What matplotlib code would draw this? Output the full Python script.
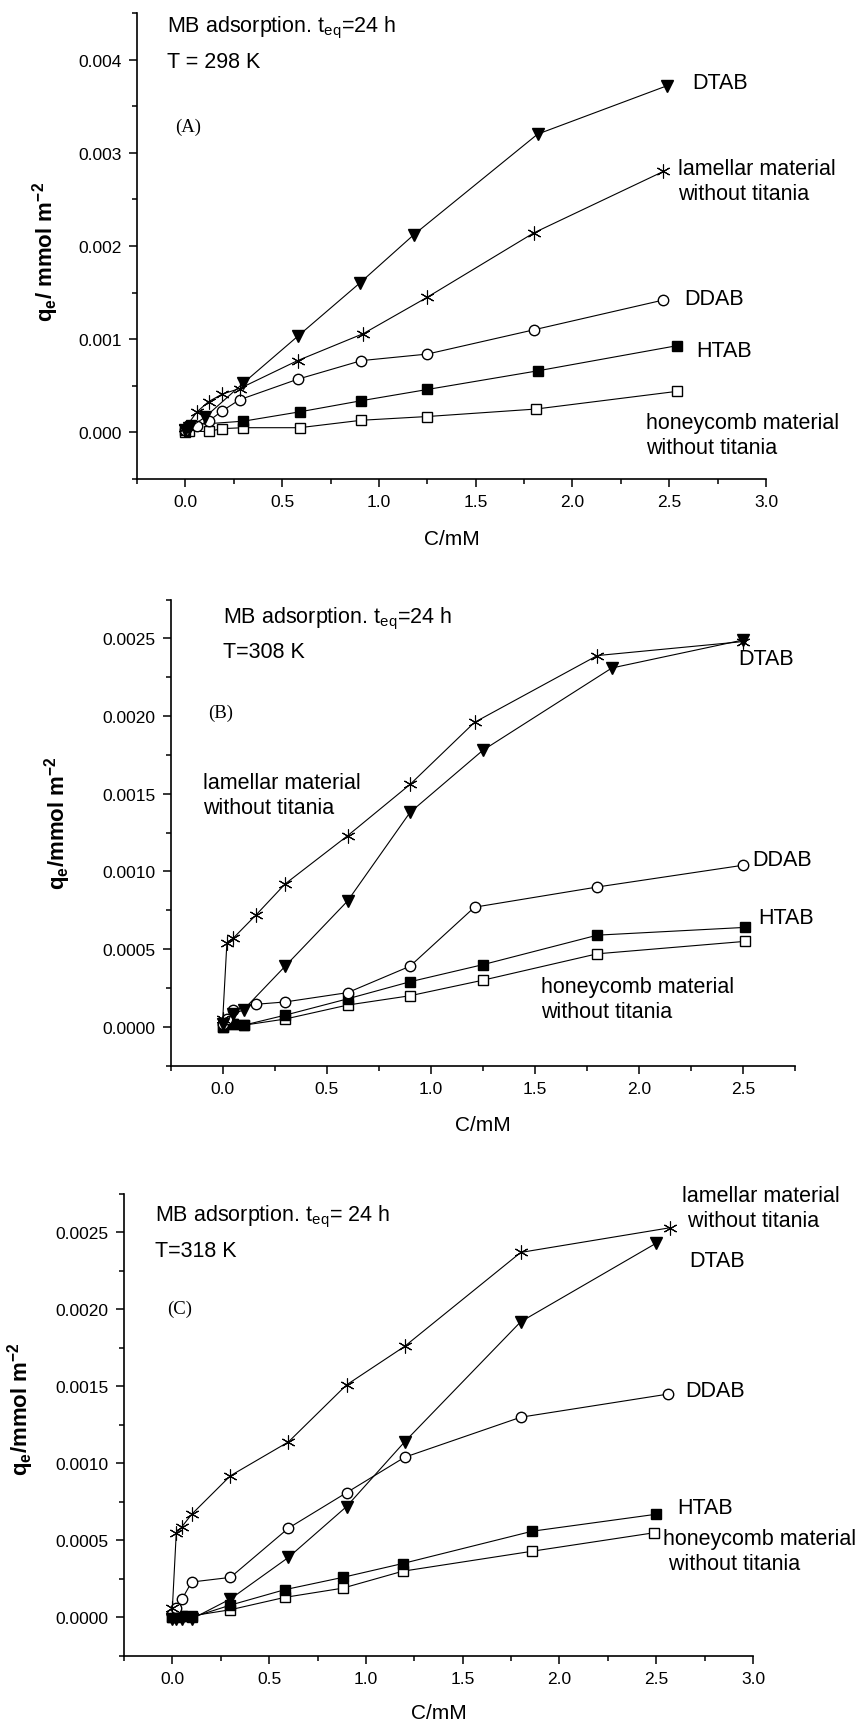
import matplotlib
matplotlib.use("Agg")
import matplotlib.pyplot as plt
from matplotlib.ticker import MultipleLocator, FormatStrFormatter

plt.rcParams['font.family'] = ['Liberation Sans', 'DejaVu Sans']
plt.rcParams['mathtext.fontset'] = 'custom'
plt.rcParams['mathtext.rm'] = 'Liberation Sans'
plt.rcParams['mathtext.it'] = 'Liberation Sans:italic'
plt.rcParams['mathtext.bf'] = 'Liberation Sans:bold'

# ---- panel A, T = 298 K ----
a_dtab_x = [0.0, 0.02, 0.1, 0.3, 0.58, 0.9, 1.18, 1.82, 2.49]
a_dtab_y = [0.00003, 0.00005, 0.00016, 0.00053, 0.00103, 0.0016, 0.00212, 0.0032, 0.00372]
a_lam_x = [0.0, 0.06, 0.12, 0.19, 0.28, 0.58, 0.92, 1.25, 1.80, 2.47]
a_lam_y = [0.00005, 0.00022, 0.00033, 0.00041, 0.00047, 0.00077, 0.00106, 0.00145, 0.00214, 0.0028]
a_ddab_x = [0.0, 0.06, 0.12, 0.19, 0.28, 0.58, 0.91, 1.25, 1.80, 2.47]
a_ddab_y = [0.00002, 0.00007, 0.00012, 0.00023, 0.00035, 0.00057, 0.00077, 0.00084, 0.0011, 0.00142]
a_htab_x = [0.0, 0.03, 0.3, 0.59, 0.91, 1.25, 1.82, 2.54]
a_htab_y = [0.00002, 0.00008, 0.00012, 0.00022, 0.00034, 0.00046, 0.00066, 0.00093]
a_hon_x = [0.0, 0.02, 0.12, 0.19, 0.3, 0.59, 0.91, 1.25, 1.81, 2.54]
a_hon_y = [0.0, 0.00001, 0.00001, 0.00004, 0.00005, 0.00005, 0.00013, 0.00017, 0.00025, 0.00044]

# ---- panel B, T = 308 K ----
b_dtab_x = [0.0, 0.05, 0.1, 0.3, 0.6, 0.9, 1.25, 1.87, 2.5]
b_dtab_y = [0.00002, 0.00008, 0.00011, 0.00039, 0.00081, 0.00138, 0.00178, 0.00231, 0.00249]
b_lam_x = [0.0, 0.02, 0.05, 0.16, 0.3, 0.6, 0.9, 1.21, 1.8, 2.5]
b_lam_y = [0.00005, 0.00054, 0.00057, 0.00072, 0.00092, 0.00123, 0.00156, 0.00196, 0.00239, 0.00248]
b_ddab_x = [0.0, 0.02, 0.05, 0.16, 0.3, 0.6, 0.9, 1.21, 1.8, 2.5]
b_ddab_y = [0.00002, 0.00005, 0.00011, 0.000145, 0.00016, 0.00022, 0.00039, 0.00077, 0.0009, 0.00104]
b_htab_x = [0.0, 0.05, 0.1, 0.3, 0.6, 0.9, 1.25, 1.8, 2.51]
b_htab_y = [0.0, 0.00002, 0.00001, 0.000075, 0.00018, 0.00029, 0.0004, 0.00059, 0.00064]
b_hon_x = [0.0, 0.05, 0.1, 0.3, 0.6, 0.9, 1.25, 1.8, 2.51]
b_hon_y = [0.0, 0.00002, 0.00001, 0.00005, 0.00014, 0.0002, 0.0003, 0.00047, 0.00055]

# ---- panel C, T = 318 K ----
c_dtab_x = [0.0, 0.02, 0.05, 0.1, 0.3, 0.6, 0.9, 1.2, 1.8, 2.5]
c_dtab_y = [-0.00001, -0.00001, -0.00001, -0.00001, 0.00012, 0.00039, 0.00072, 0.00114, 0.00192, 0.00243]
c_lam_x = [0.0, 0.02, 0.05, 0.1, 0.3, 0.6, 0.9, 1.2, 1.8, 2.57]
c_lam_y = [0.00006, 0.000545, 0.00059, 0.00067, 0.00092, 0.00114, 0.00151, 0.00176, 0.00237, 0.00253]
c_ddab_x = [0.0, 0.02, 0.05, 0.1, 0.3, 0.6, 0.9, 1.2, 1.8, 2.56]
c_ddab_y = [0.00002, 0.00006, 0.00012, 0.00023, 0.00026, 0.00058, 0.00081, 0.00104, 0.0013, 0.00145]
c_htab_x = [0.0, 0.02, 0.05, 0.1, 0.3, 0.58, 0.88, 1.19, 1.86, 2.5]
c_htab_y = [0.0, 0.0, 0.00001, 0.0, 0.00008, 0.00018, 0.00026, 0.00035, 0.00056, 0.00067]
c_hon_x = [0.0, 0.02, 0.05, 0.1, 0.3, 0.58, 0.88, 1.19, 1.86, 2.49]
c_hon_y = [0.0, 0.00001, 0.00001, 0.00001, 0.00005, 0.00013, 0.00019, 0.0003, 0.00043, 0.00055]

lam_txt = 'lamellar material\nwithout titania'
hon_txt = 'honeycomb material\nwithout titania'

styles = {
    'dtab': dict(marker='v', mfc='black', ms=8),
    'lam': dict(marker=(6, 2, 0), mfc='black', ms=10, mew=0.8),
    'ddab': dict(marker='o', mfc='white', ms=7.5),
    'htab': dict(marker='s', mfc='black', ms=6.5),
    'hon': dict(marker='s', mfc='white', ms=6.5),
}

fig = plt.figure(figsize=(8.67, 17.24), dpi=100)


def setup(ax, xlim, xmax, ylim, ymaj, yfmt):
    ax.set_xlim(*xlim)
    ax.set_ylim(*ylim)
    for s in ['top', 'right']:
        ax.spines[s].set_visible(False)
    for s in ['left', 'bottom']:
        ax.spines[s].set_linewidth(1.2)
    ax.xaxis.set_major_locator(MultipleLocator(0.5))
    ax.xaxis.set_minor_locator(MultipleLocator(0.25))
    ax.yaxis.set_major_locator(MultipleLocator(ymaj))
    ax.yaxis.set_minor_locator(MultipleLocator(ymaj / 2))
    ax.xaxis.set_major_formatter(FormatStrFormatter('%.1f'))
    ax.yaxis.set_major_formatter(FormatStrFormatter(yfmt))
    ax.set_xticks([t * 0.5 for t in range(int(xmax / 0.5) + 1)])
    ax.tick_params(which='major', direction='out', length=6, width=1.1,
                   labelsize=12.5, pad=5)
    ax.tick_params(which='minor', direction='out', length=3.5, width=1.1)
    ax.set_xlabel('C/mM', fontsize=15)


def draw(ax, series):
    for key, x, y in series:
        ax.plot(x, y, color='black', lw=0.8, mec='black', clip_on=False,
                **styles[key])


# panel A
axA = fig.add_axes([0.158, 0.7216, 0.7255, 0.2703])
setup(axA, (-0.25, 3.0), 3.0, (-0.0005, 0.0045), 0.001, '%.3f')
draw(axA, [('hon', a_hon_x, a_hon_y), ('htab', a_htab_x, a_htab_y),
           ('ddab', a_ddab_x, a_ddab_y), ('lam', a_lam_x, a_lam_y),
           ('dtab', a_dtab_x, a_dtab_y)])
axA.set_ylabel(r'q$_\mathbf{e}$/ mmol m$^\mathbf{-2}$', fontsize=16, fontweight='bold')
axA.yaxis.set_label_coords(-0.121, 0.49)
axA.xaxis.labelpad = 14
axA.text(0.047, 0.961, r'MB adsorption. t$_\mathrm{eq}$=24 h', transform=axA.transAxes,
         fontsize=15.5, va='baseline')
axA.text(0.047, 0.885, 'T = 298 K', transform=axA.transAxes, fontsize=15.5, va='baseline')
axA.text(0.060, 0.746, '(A)', transform=axA.transAxes, fontsize=13.5, va='baseline',
         family='Liberation Serif')
axA.text(2.62, 0.00375, 'DTAB', fontsize=15.5, va='center')
axA.text(2.545, 0.0027, lam_txt, fontsize=15.5, va='center', linespacing=1.25)
axA.text(2.58, 0.00144, 'DDAB', fontsize=15.5, va='center')
axA.text(2.64, 0.00088, 'HTAB', fontsize=15.5, va='center')
axA.text(2.38, -0.00003, hon_txt, fontsize=15.5, va='center', linespacing=1.25)

# panel B
axB = fig.add_axes([0.1969, 0.3813, 0.720, 0.2703])
setup(axB, (-0.25, 2.75), 2.5, (-0.00025, 0.00275), 0.0005, '%.4f')
draw(axB, [('hon', b_hon_x, b_hon_y), ('htab', b_htab_x, b_htab_y),
           ('ddab', b_ddab_x, b_ddab_y), ('dtab', b_dtab_x, b_dtab_y),
           ('lam', b_lam_x, b_lam_y)])
axB.set_ylabel(r'q$_\mathbf{e}$/mmol m$^\mathbf{-2}$', fontsize=16, fontweight='bold')
axB.yaxis.set_label_coords(-0.157, 0.523)
axB.xaxis.labelpad = 14
axB.text(0.083, 0.9515, r'MB adsorption. t$_\mathrm{eq}$=24 h', transform=axB.transAxes,
         fontsize=15.5, va='baseline')
axB.text(0.083, 0.876, 'T=308 K', transform=axB.transAxes, fontsize=15.5, va='baseline')
axB.text(0.060, 0.749, '(B)', transform=axB.transAxes, fontsize=13.5, va='baseline',
         family='Liberation Serif')
axB.text(-0.093, 0.00149, lam_txt, fontsize=15.5, va='center', linespacing=1.25)
axB.text(2.479, 0.00237, 'DTAB', fontsize=15.5, va='center')
axB.text(2.545, 0.001076, 'DDAB', fontsize=15.5, va='center')
axB.text(2.572, 0.000704, 'HTAB', fontsize=15.5, va='center')
axB.text(1.53, 0.000181, hon_txt, fontsize=15.5, va='center', linespacing=1.25)

# panel C
axC = fig.add_axes([0.143, 0.0389, 0.7255, 0.268])
setup(axC, (-0.25, 3.0), 3.0, (-0.00025, 0.00275), 0.0005, '%.4f')
draw(axC, [('hon', c_hon_x, c_hon_y), ('htab', c_htab_x, c_htab_y),
           ('ddab', c_ddab_x, c_ddab_y), ('dtab', c_dtab_x, c_dtab_y),
           ('lam', c_lam_x, c_lam_y)])
axC.set_ylabel(r'q$_\mathbf{e}$/mmol m$^\mathbf{-2}$', fontsize=16, fontweight='bold')
axC.yaxis.set_label_coords(-0.14, 0.537)
axC.xaxis.labelpad = 12
axC.text(0.049, 0.942, r'MB adsorption. t$_\mathrm{eq}$= 24 h', transform=axC.transAxes,
         fontsize=15.5, va='baseline')
axC.text(0.049, 0.866, 'T=318 K', transform=axC.transAxes, fontsize=15.5, va='baseline')
axC.text(0.068, 0.742, '(C)', transform=axC.transAxes, fontsize=13.5, va='baseline',
         family='Liberation Serif')
axC.text(2.635, 0.00266, 'lamellar material\n without titania', fontsize=15.5,
         va='center', linespacing=1.25)
axC.text(2.67, 0.00232, 'DTAB', fontsize=15.5, va='center')
axC.text(2.65, 0.001473, 'DDAB', fontsize=15.5, va='center')
axC.text(2.61, 0.000713, 'HTAB', fontsize=15.5, va='center')
axC.text(2.534, 0.000432, 'honeycomb material\n without titania', fontsize=15.5,
         va='center', linespacing=1.25)

fig.savefig('out.png', dpi=100)
